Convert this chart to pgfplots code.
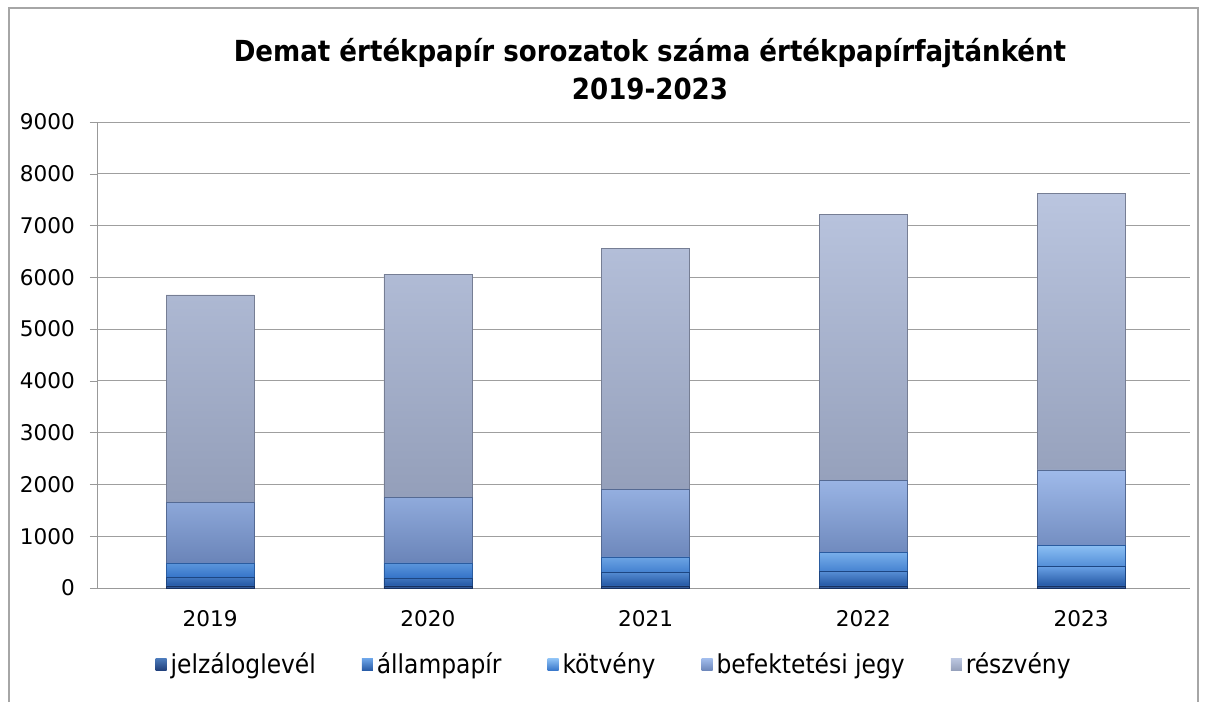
\documentclass[border=0pt]{standalone}
\usepackage{fontspec}
\setmainfont{DejaVu Sans}
\newfontfamily\condfont{DejaVu Sans Condensed}
\usepackage{pgfplots}
\pgfplotsset{compat=1.18}
\definecolor{cJ1}{HTML}{4A78B8}\definecolor{cJ2}{HTML}{1E3D78}
\definecolor{cA1}{HTML}{6AA2E6}\definecolor{cA2}{HTML}{2457A3}
\definecolor{cK1}{HTML}{8CC0F4}\definecolor{cK2}{HTML}{3473C8}
\definecolor{cB1}{HTML}{9FBAEA}\definecolor{cB2}{HTML}{6A84B8}
\definecolor{cR1}{HTML}{BAC5DF}\definecolor{cR2}{HTML}{939EB9}
\pgfplotstableread{
x j a k b r
0 40 170 270 1180 4000
1 40 155 290 1270 4305
2 40 270 290 1310 4655
3 40 290 350 1405 5135
4 40 385 405 1450 5345
}\datatable
\begin{document}
\begin{tikzpicture}
\path[use as bounding box] (0pt,0pt) rectangle (604pt,351pt);
\draw[gray!70, line width=0.6pt] (4.5pt,0pt) -- (4.5pt,347pt) -- (599pt,347pt) -- (599pt,0pt);
\node[font=\condfont\bfseries\fontsize{14.5}{19}\selectfont, align=center] at (325pt,316.5pt) {Demat értékpapír sorozatok száma értékpapírfajtánként\\2019-2023};
\begin{axis}[
  at={(48.5pt,57pt)}, anchor=south west,
  scale only axis, width=546.5pt, height=233pt,
  ybar stacked, bar width=44pt,
  xmin=-0.52, xmax=4.5, ymin=0, ymax=9000,
  ytick={0,1000,...,9000},
  xtick={0,...,4}, xticklabels={2019,2020,2021,2022,2023},
  xtick style={draw=none},
  extra x ticks={0.5,1.5,2.5,3.5,4.5}, extra x tick labels={},
  extra x tick style={tick style={draw=gray!80}, grid=none},
  axis x line*=bottom, axis y line*=left,
  axis line style={gray!80},
  ytick style={gray!80},
  tick align=outside, major tick length=3.5pt,
  ymajorgrids, grid style={gray!75, line width=0.5pt},
  scaled y ticks=false,
  yticklabel style={/pgf/number format/1000 sep={}},
  /pgf/number format/assume math mode=true,
  tick label style={font=\fontsize{10.8}{12}\selectfont},
  yticklabel style={xshift=-4pt},
  xticklabel style={yshift=-4pt},
  legend style={at={(0.474,-0.165)}, anchor=center, draw=none, fill=none,
    legend columns=5, font=\condfont\fontsize{13}{15}\selectfont,
    /tikz/every even column/.append style={column sep=21pt},
    /tikz/every odd column/.append style={column sep=0pt}},
  legend image code/.code={\path[#1, draw=none] (0pt,-3pt) rectangle (5.5pt,3pt);},
  legend cell align=left,
]
\addplot[draw=cJ2!80!black, line width=0.3pt, top color=cJ1, bottom color=cJ2] table[x=x,y=j]{\datatable};
\addplot[draw=cA2!80!black, line width=0.3pt, top color=cA1, bottom color=cA2] table[x=x,y=a]{\datatable};
\addplot[draw=cK2!80!black, line width=0.3pt, top color=cK1, bottom color=cK2] table[x=x,y=k]{\datatable};
\addplot[draw=cB2!80!black, line width=0.3pt, top color=cB1, bottom color=cB2] table[x=x,y=b]{\datatable};
\addplot[draw=cR2!80!black, line width=0.3pt, top color=cR1, bottom color=cR2] table[x=x,y=r]{\datatable};
\legend{jelzáloglevél, állampapír, kötvény, befektetési jegy, részvény}
\end{axis}
\end{tikzpicture}
\end{document}
